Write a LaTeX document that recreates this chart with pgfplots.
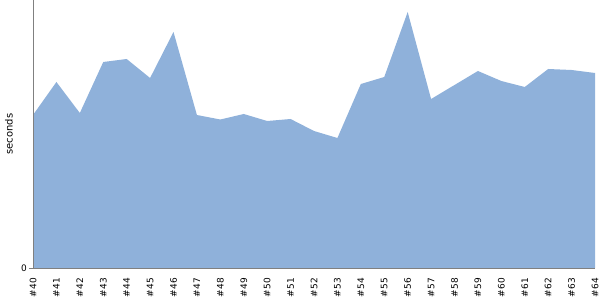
\documentclass[border=0pt]{standalone}
\usepackage{pgfplots}
\pgfplotsset{compat=1.18}
\usepackage{fontspec}
\setmainfont{DejaVu Sans}
\definecolor{areafill}{RGB}{143,177,218}
\definecolor{axgray}{RGB}{128,128,128}
\begin{document}
\begin{tikzpicture}[x=1bp,y=1bp]
\path[use as bounding box] (0,0) rectangle (600,300);
\begin{axis}[
  at={(33bp,32bp)}, anchor=origin,
  scale only axis, width=562bp, height=268bp,
  xmin=0, xmax=24, ymin=0, ymax=268,
  axis x line*=bottom, axis y line*=left,
  axis line style={axgray, line width=0.8bp, -},
  xtick={0,...,24},
  xticklabels={\#40,\#41,\#42,\#43,\#44,\#45,\#46,\#47,\#48,\#49,\#50,\#51,\#52,\#53,\#54,\#55,\#56,\#57,\#58,\#59,\#60,\#61,\#62,\#63,\#64},
  xticklabel style={rotate=90, anchor=east, font=\fontsize{9}{10}\selectfont, inner sep=0bp, xshift=-6bp},
  ytick={0}, yticklabels={0},
  yticklabel style={font=\fontsize{9}{10}\selectfont, inner sep=2bp},
  x tick style={draw=none},
  y tick style={axgray},
  major tick length=4bp,
  tick align=outside,
  ylabel={seconds},
  ylabel style={font=\fontsize{10}{12}\selectfont},
  every axis y label/.append style={at={(-24bp,134bp)}, anchor=center},
  clip=false,
  axis on top,
]
\addplot[fill=areafill, draw=none] coordinates {
(0,153) (1,186) (2,155) (3,206) (4,209) (5,190) (6,236) (7,153) (8,148.5) (9,154)
(10,147) (11,149) (12,137) (13,130) (14,184) (15,191) (16,256) (17,169) (18,183)
(19,197) (20,187) (21,181) (22,199) (23,198) (24,195)
} \closedcycle;
\end{axis}
\end{tikzpicture}
\end{document}
